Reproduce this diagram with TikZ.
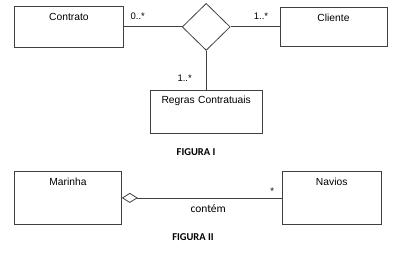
\documentclass[tikz,border=0pt]{standalone}
\usepackage{fontspec}
\setmainfont{Liberation Sans}
\newfontfamily\capfont{Carlito}
\usetikzlibrary{arrows.meta,positioning,shapes.geometric}
\tikzset{
classbox/.style={draw=black!75,line width=.8pt,inner sep=0pt,align=center,font=\fontsize{10.3}{12}\selectfont,text height=14pt},
mult/.style={font=\fontsize{9.5}{11}\selectfont,inner sep=2pt},
assoc/.style={draw=black!75,line width=.8pt,diamond,aspect=1,minimum width=48pt,minimum height=47pt,inner sep=0pt},
link/.style={draw=black!75,line width=.8pt},
aggr/.style={link,{Diamond[open,length=16pt,width=10pt,line width=.8pt]}-},
caption/.style={font=\capfont\bfseries\fontsize{10.5}{12}\selectfont,inner sep=0pt},
rolename/.style={font=\capfont\fontsize{11.5}{13}\selectfont,inner sep=2pt}
}
\begin{document}
\begin{tikzpicture}[x=1pt,y=-1pt]
\useasboundingbox (0,0) rectangle (398,267);
% figura I
\node[classbox,text width=109pt,text depth=27pt,anchor=north west] (contrato) at (14,6) {Contrato};
\node[assoc,right=58pt of contrato] (rel) {};
\node[classbox,text width=107pt,text depth=25pt,right=49pt of rel] (cliente) {Cliente};
\node[classbox,text width=112pt,text height=13pt,text depth=30pt,below=39pt of rel] (regras) {Regras Contratuais};
\node[caption] (fig1) at (196,152) {FIGURA I};

\draw[link] (contrato) -- node[mult,pos=.24,above=5pt]{0..*} (rel);
\draw[link] (rel) -- node[mult,pos=.62,above=5pt]{1..*} (cliente);
\draw[link] (rel) -- node[mult,pos=.7,left=12pt]{1..*} (regras);

% figura II
\node[classbox,text width=107pt,text depth=39pt,anchor=north west] (marinha) at (14,171) {Marinha};
\node[classbox,text width=99pt,text depth=39pt,right=160pt of marinha] (navios) {Navios};
\node[caption] (fig2) at (193,237) {FIGURA II};

\draw[aggr] (marinha) -- node[mult,pos=.94,above=1.5pt]{*} node[rolename,pos=.54,below=4pt]{contém} (navios);
\end{tikzpicture}
\end{document}
